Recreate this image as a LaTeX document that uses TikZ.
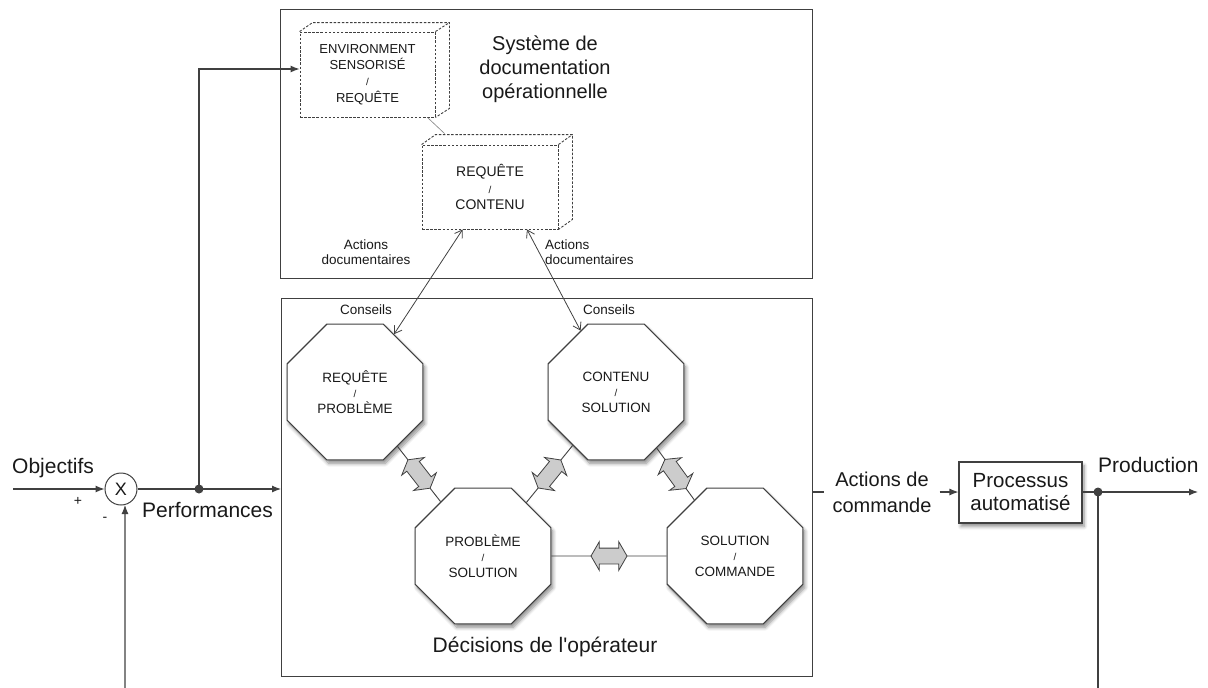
\documentclass[tikz,border=0pt]{standalone}
\usepackage{fontspec}
\setmainfont{Liberation Sans}
\usetikzlibrary{shapes.geometric,shapes.arrows,shadows,shadows.blur,calc,arrows.meta}
\definecolor{linec}{gray}{0.25}
\definecolor{txt}{gray}{0.1}
\definecolor{arrfill}{gray}{0.8}
\newcommand\slh{{\fontsize{10}{10}\selectfont /}}
\begin{document}
\begin{tikzpicture}[x=1pt,y=-1pt,
  box/.style={draw=linec, line width=1.1pt, inner sep=0pt, anchor=north west},
  dbox/.style={draw=linec, line width=0.9pt, dash pattern=on 2.5pt off 1.6pt, fill=white, inner sep=0pt, align=center, text=txt},
  dface/.style={draw=linec, line width=0.9pt, dash pattern=on 2.5pt off 1.6pt},
  shad/.style={blur shadow={shadow xshift=2pt, shadow yshift=-3.5pt, shadow blur radius=3.5pt, shadow blur steps=6, shadow opacity=45}},
  oct/.style={regular polygon, regular polygon sides=8, minimum size=147pt, inner sep=0pt, draw=linec, line width=1.1pt, fill=white, shad, align=center, text=txt, font=\fontsize{13.5}{15.5}\selectfont},
  link/.style={draw=linec, line width=0.9pt},
  dbl/.style={double arrow, draw=linec, fill=arrfill, line width=0.8pt, minimum height=36pt, inner xsep=0pt, inner ysep=7.5pt, double arrow head extend=6.5pt, double arrow tip angle=120, sloped},
  sig/.style={draw=linec, line width=1.1pt, -{Latex[length=9pt,width=7pt]}},
  plain/.style={draw=linec, line width=1.1pt},
  docarr/.style={draw=linec, line width=0.8pt, {Straight Barb[length=7pt,width=9pt]}-{Straight Barb[length=7pt,width=9pt]}},
  lbl/.style={text=txt, inner sep=0pt},
  pbox/.style={draw=linec, line width=1.1pt, fill=white, shad, minimum width=123pt, minimum height=61pt, inner sep=0pt, align=center, text=txt, font=\fontsize{20.5}{23}\selectfont}
]
\useasboundingbox (0,0) rectangle (1208,688);

% frames
\node[box, minimum width=532pt, minimum height=269pt] (top) at (280,9) {};
\node[box, minimum width=531pt, minimum height=378pt] (low) at (281,298) {};

\node[lbl, align=center, font=\fontsize{20}{24}\selectfont] (tsys) at (545,69) {Système de\\documentation\\opérationnelle};
\node[lbl, anchor=base, font=\fontsize{21}{24}\selectfont] (tdec) at (545,652) {Décisions de l\textquotesingle opérateur};

% 3D dashed boxes
\node[dbox, minimum width=135pt, minimum height=85pt, font=\fontsize{13}{16.3}\selectfont] (env) at (367.5,74.5) {ENVIRONMENT\\SENSORISÉ\\\slh\\REQUÊTE};
\draw[dface] (env.north west) -- ++(13,-9) -| ($(env.south east)+(14,-9)$) -- (env.south east);
\draw[dface] (env.north east) -- ++(14,-9);

\node[dbox, minimum width=136pt, minimum height=84pt, font=\fontsize{14}{16.5}\selectfont] (rc) at (490,187) {REQUÊTE\\\slh\\CONTENU};
\draw[dface] (rc.north west) -- ++(14,-10) -| ($(rc.south east)+(14,-10)$) -- (rc.south east);
\draw[dface] (rc.north east) -- ++(14,-10);

\draw[draw=gray, line width=0.6pt] ($(env.south east)+(-8,0)$) -- ($(rc.north west)+(23,-11)$);

% octagons
\node[oct] (rp) at (355,392) {REQUÊTE\\\slh\\PROBLÈME};
\node[oct] (cs) at (616,392) {CONTENU\\\slh\\SOLUTION};
\node[oct] (ps) at (483,556) {PROBLÈME\\\slh\\SOLUTION};
\node[oct] (sc) at (735,556) {SOLUTION\\\slh\\COMMANDE};

\draw[link] (rp) -- node[dbl]{} (ps);
\draw[link] (cs) -- node[dbl]{} (ps);
\draw[link] (cs) -- node[dbl]{} (sc);
\draw[link] (ps) -- node[dbl]{} (sc);

% documentary actions
\draw[docarr] (rp.56) -- ($(rc.south west)!0.3!(rc.south east)$);
\draw[docarr] (cs.120) -- ($(rc.south west)!0.77!(rc.south east)$);
\node[lbl, align=center, font=\fontsize{13.5}{15}\selectfont] (ad1) at (366,252) {Actions\\documentaires};
\node[lbl, align=left, anchor=west, font=\fontsize{13.5}{15}\selectfont] (ad2) at (545,252) {Actions\\documentaires};
\node[lbl, font=\fontsize{13.5}{15}\selectfont] (co1) at (366,310) {Conseils};
\node[lbl, font=\fontsize{13.5}{15}\selectfont] (co2) at (609,310) {Conseils};

% left part
\node[draw=linec, line width=1pt, circle, minimum size=32pt, inner sep=0pt, fill=white, font=\fontsize{18}{18}\selectfont, text=txt] (c) at (121,489) {X};
\coordinate (obj) at (13,489);
\draw[sig] (obj) -- (c.west);
\node[lbl, anchor=base west, font=\fontsize{21}{24}\selectfont] (tobj) at (12,473) {Objectifs};
\node[lbl, font=\fontsize{14}{14}\selectfont] (plus) at (78,501) {+};
\node[lbl, font=\fontsize{14}{14}\selectfont] (minus) at (105,519) {-};
\coordinate (fb) at (125,688);
\draw[sig] (fb) -- (c.-76);
\coordinate (pdot) at (199,489);
\draw[sig] (c.east) -- (low.west |- pdot);
\fill[linec] (pdot) circle (4.5pt);
\node[lbl, anchor=base west, font=\fontsize{21}{24}\selectfont] (tperf) at (142,517) {Performances};
\coordinate (envy) at (0,69);
\draw[sig] (pdot) |- (env.west |- envy);

% right part
\node[lbl, align=center, inner xsep=8pt, font=\fontsize{20}{26}\selectfont] (adc) at (882,492) {Actions de\\commande};
\draw[plain] (low.east |- adc) -- (adc.west);
\node[pbox] (proc) at (1020.5,492.5) {Processus\\automatisé};
\draw[sig] (adc.east) -- (proc.west |- adc);
\coordinate (prd) at (1098,492);
\coordinate (pend) at (1198,492);
\draw[sig] (proc.east |- prd) -- (pend);
\fill[linec] (prd) circle (4.5pt);
\coordinate (fb2) at (1098,688);
\draw[plain] (prd) -- (fb2);
\node[lbl, anchor=base west, font=\fontsize{21}{24}\selectfont] (tprod) at (1098,472) {Production};
\end{tikzpicture}
\end{document}
